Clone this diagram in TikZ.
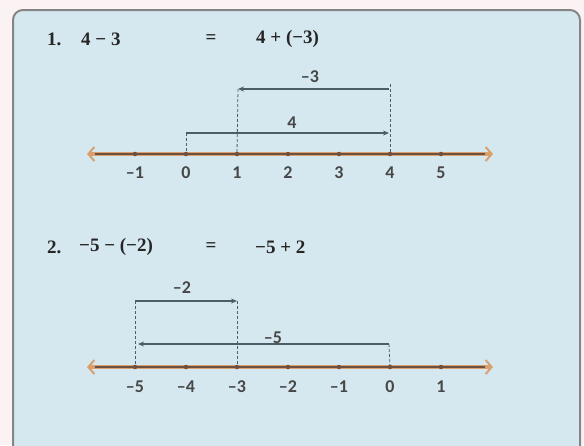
\documentclass[tikz,border=0pt]{standalone}
\usepackage{fontspec}
\setmainfont{Liberation Serif}
\newfontfamily\labfont{Carlito}
\usetikzlibrary{arrows.meta,calc}
\definecolor{bgc}{HTML}{FBF3F3}
\definecolor{boxfill}{HTML}{D5E8EF}
\definecolor{boxline}{HTML}{858585}
\definecolor{nlo}{HTML}{D9A06E}
\definecolor{nld}{HTML}{6E5040}
\definecolor{arr}{HTML}{4B5D66}
\definecolor{txt}{HTML}{262626}
\begin{document}
\begin{tikzpicture}[x=1pt,y=-1pt,
  eq/.style={font=\fontsize{19}{21}\selectfont\bfseries, text=txt, inner sep=0pt},
  lbl/.style={font=\labfont\fontsize{18}{19}\selectfont\bfseries, text=txt!85, inner sep=0pt},
  nlback/.style={draw=nlo, line width=3.6pt, {Straight Barb[length=6pt,width=14pt,line width=2pt]}-{Straight Barb[length=6pt,width=14pt,line width=2pt]}},
  nlfront/.style={draw=nld, line width=1.3pt},
  tickdot/.style={circle, fill=nld, inner sep=0pt, minimum size=4.5pt},
  vec/.style={draw=arr, line width=1.4pt, -{Stealth[length=6pt,width=5pt]}},
  guide/.style={draw=arr, line width=0.8pt, dash pattern=on 3pt off 2pt}]
\useasboundingbox (0,0) rectangle (584,445);
\fill[bgc] (0,0) rectangle (584,445);
\draw[boxline, line width=2pt, fill=boxfill, rounded corners=10pt] (13,460) -- (13,10) -- (580,10) -- (580,460);

% ---------- Part 1 ----------
\node[eq, anchor=west] (n1) at (47,39) {1.};
\node[eq, anchor=west] (l1) at (81,39) {4 − 3};
\node[eq] (e1) at (211,39) {=};
\node[eq, anchor=west] (r1) at (256,39) {4 + (−3)};

\coordinate (L1) at (87,154);
\coordinate (R1) at (493,154);
\draw[nlback] (L1) -- (R1);
\draw[nlfront] (95,154) -- (485,154);
\foreach \i/\t in {0/–1,1/0,2/1,3/2,4/3,5/4,6/5}{
  \coordinate (a\i) at ({135+51*\i},154);
  \node[tickdot] (da\i) at (a\i) {};
  \node[lbl] (ta\i) at ({135+51*\i},173) {\t};
}
\coordinate (s4) at (186,133);
\coordinate (e4) at (389,133);
\draw[vec] (s4) -- (e4);
\draw[guide] (s4) -- (a1);
\node[lbl] (t4) at (292,123) {4};

\coordinate (s3) at (389,89);
\coordinate (e3) at (238,89);
\draw[vec] (s3) -- (e3);
\node[lbl] (t3) at (310,77) {–3};
\coordinate (g4) at (390,84);
\draw[guide] (g4) -- (a5);
\draw[guide] (e3) -- (a2);

% ---------- Part 2 ----------
\node[eq, anchor=west] (n2) at (47,247) {2.};
\node[eq, anchor=west] (l2) at (79,247) {−5 − (−2)};
\node[eq] (e2) at (211,247) {=};
\node[eq, anchor=west] (r2) at (255,247) {−5 + 2};

\coordinate (L2) at (87,367);
\coordinate (R2) at (493,367);
\draw[nlback] (L2) -- (R2);
\draw[nlfront] (95,367) -- (485,367);
\foreach \i/\t in {0/–5,1/–4,2/–3,3/–2,4/–1,5/0,6/1}{
  \coordinate (b\i) at ({135+51*\i},367);
  \node[tickdot] (db\i) at (b\i) {};
  \node[lbl] (tb\i) at ({135+51*\i},387) {\t};
}
\coordinate (s2) at (135,301);
\coordinate (e2a) at (237,301);
\draw[vec] (s2) -- (e2a);
\node[lbl] (t2) at (182,288) {–2};
\draw[guide] (s2) -- (b0);
\draw[guide] (e2a) -- (b2);

\coordinate (s5) at (389,344);
\coordinate (e5) at (138,344);
\draw[vec] (s5) -- (e5);
\node[lbl] (t5) at (273,338) {–5};
\draw[guide] (s5) -- (b5);
\end{tikzpicture}
\end{document}
